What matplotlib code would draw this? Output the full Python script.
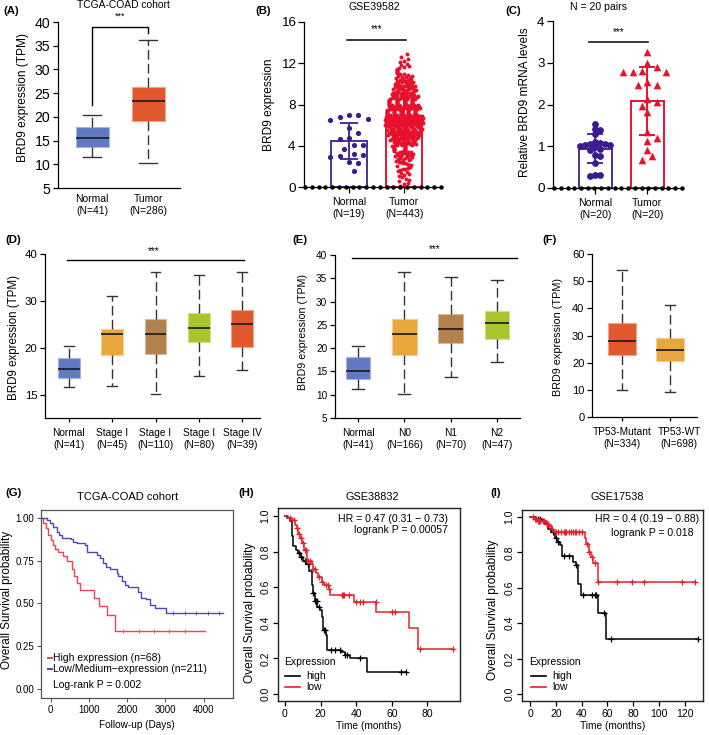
import numpy as np
import matplotlib
matplotlib.use('Agg')
import matplotlib.pyplot as plt
import matplotlib.transforms as mtrans
from matplotlib.colors import to_rgb

plt.rcParams['font.family'] = ['Liberation Sans', 'DejaVu Sans']
plt.rcParams['axes.linewidth'] = 0.9

# ======================= DATA =======================
# (A) TCGA-COAD boxplot
A_labels = ['Normal\n(N=41)', 'Tumor\n(N=286)']
A_whislo = [11.5, 10.3]
A_q1 = [13.6, 19.1]
A_med = [15.5, 23.3]
A_q3 = [17.9, 26.4]
A_whishi = [20.4, 36.2]
A_colors = ['#6079C1', '#E0582C']

# (B) GSE39582 scatter-bar
B_labels = ['Normal\n(N=19)', 'Tumor\n(N=443)']
B_normal = [7.0, 7.0, 6.8, 6.6, 6.5, 5.7, 5.2, 4.8, 4.7, 4.1, 4.1, 3.7,
            3.2, 3.1, 3.0, 2.9, 2.4, 2.3, 1.6]
B_tumor_bin_lo = [0.0, 0.5, 1.0, 1.5, 2.0, 2.5, 3.0, 3.5, 4.0, 4.5, 5.0, 5.5, 6.0,
                  6.5, 7.0, 7.5, 8.0, 8.5, 9.0, 9.5, 10.0, 10.5, 11.0, 11.5, 12.0, 12.5]
B_tumor_bin_n = [3, 4, 5, 6, 8, 10, 12, 14, 18, 24, 30, 36, 40,
                 40, 35, 32, 28, 24, 20, 16, 12, 9, 7, 5, 3, 2]
B_yticks = [0, 4, 8, 12, 16]

# (C) qPCR, 20 pairs
C_labels = ['Normal\n(N=20)', 'Tumor\n(N=20)']
C_normal = [1.53, 1.41, 1.38, 1.30, 1.10, 1.08, 1.06, 1.05, 1.04, 1.02, 1.00,
            0.98, 0.94, 0.90, 0.80, 0.76, 0.60, 0.32, 0.30, 0.28]
C_tumor = [3.26, 2.99, 2.91, 2.81, 2.77, 2.77, 2.77, 2.53, 2.47, 2.47, 2.13,
           2.05, 1.97, 1.81, 1.33, 1.20, 1.12, 0.92, 0.76, 0.68]
C_yticks = [0, 1, 2, 3, 4]

# (D) stage boxplot
D_labels = ['Normal\n(N=41)', 'Stage I\n(N=45)', 'Stage I\n(N=110)', 'Stage I\n(N=80)', 'Stage IV\n(N=39)']
D_whislo = [11.6, 11.9, 10.2, 13.9, 15.2]
D_q1 = [13.6, 18.5, 18.7, 21.3, 20.1]
D_med = [15.5, 22.9, 23.0, 24.3, 25.1]
D_q3 = [17.9, 24.0, 26.2, 27.4, 28.1]
D_whishi = [20.3, 31.1, 36.1, 35.5, 36.2]
D_colors = ['#6079C1', '#E9A63B', '#B3824C', '#A8C52C', '#E0582C']
D_yticks = [10, 20, 30, 40]
D_yticklabels = ['15', '20', '30', '40']

# (E) nodal status boxplot
E_labels = ['Normal\n(N=41)', 'N0\n(N=166)', 'N1\n(N=70)', 'N2\n(N=47)']
E_whislo = [11.2, 10.2, 13.7, 17.1]
E_q1 = [13.4, 18.6, 21.0, 21.9]
E_med = [15.1, 23.1, 24.2, 25.4]
E_q3 = [18.1, 26.2, 27.3, 28.0]
E_whishi = [20.5, 36.3, 35.3, 34.6]
E_colors = ['#6079C1', '#E9A63B', '#B3824C', '#A8C52C']
E_yticks = [5, 10, 15, 20, 25, 30, 35, 40]

# (F) TP53 status boxplot
F_labels = ['TP53-Mutant\n(N=334)', 'TP53-WT\n(N=698)']
F_whislo = [10.1, 9.3]
F_q1 = [22.7, 20.5]
F_med = [28.1, 24.8]
F_q3 = [34.6, 29.1]
F_whishi = [54.2, 41.2]
F_colors = ['#E0582C', '#E9A63B']
F_yticks = [0, 10, 20, 30, 40, 50, 60]

# (G) TCGA-COAD KM (days)
G_high_t = [-235, -191, -122, -61, 0, 52, 113, 200, 313, 418, 548, 609, 696, 766,
            1140, 1262, 1462, 1680, 4030]
G_high_s = [1.0, 0.97, 0.94, 0.90, 0.87, 0.84, 0.82, 0.80, 0.78, 0.75, 0.70, 0.66, 0.62, 0.58,
            0.535, 0.485, 0.43, 0.34, 0.34]
G_low_t = [-235, -104, -17, 70, 157, 226, 287, 522, 592, 679, 896, 957, 1200, 1288, 1375,
           1444, 1549, 1723, 1766, 1853, 1940, 2027, 2288, 2349, 2480, 2593, 2723, 3028, 4506]
G_low_s = [1.0, 0.99, 0.97, 0.95, 0.92, 0.90, 0.885, 0.875, 0.86, 0.855, 0.84, 0.80, 0.785,
           0.765, 0.735, 0.715, 0.70, 0.68, 0.66, 0.63, 0.61, 0.595, 0.565, 0.53, 0.525,
           0.49, 0.475, 0.445, 0.445]
G_high_cens = [1900, 2300, 2700, 3100, 3500]
G_low_cens = [3200, 3500, 3800, 4100, 4400]
G_xticks = [0, 1000, 2000, 3000, 4000]
G_yticks = [0.0, 0.25, 0.50, 0.75, 1.00]

# (H) GSE38832 KM (months)
H_high_t = [0, 1.3, 2.8, 3.7, 4.7, 6.2, 7.5, 8.8, 10.3, 12.1, 13.6, 15.0, 15.9, 16.8, 18.1,
            19.6, 20.6, 21.5, 22.8, 23.7, 31.2, 33.6, 36.4, 45.8, 68]
H_high_s = [1.0, 0.99, 0.97, 0.89, 0.83, 0.81, 0.79, 0.77, 0.75, 0.73, 0.69, 0.61, 0.57, 0.52,
            0.49, 0.47, 0.43, 0.36, 0.33, 0.25, 0.235, 0.22, 0.20, 0.125, 0.125]
H_high_cens = [8, 9, 11, 12, 13, 16, 17, 17.5, 18, 19, 22, 22.5, 26, 28, 31, 34, 35, 42, 65, 68]
H_low_t = [0, 1.9, 3.7, 5.6, 6.5, 7.5, 8.4, 9.3, 10.6, 12.5, 15.0, 15.9, 17.4, 18.7, 20.6,
           21.9, 24.9, 25.2, 38.7, 51.4, 69.7, 74.8, 94.4]
H_low_s = [1.0, 0.99, 0.98, 0.95, 0.93, 0.90, 0.875, 0.85, 0.81, 0.75, 0.73, 0.70, 0.68, 0.66,
           0.63, 0.61, 0.59, 0.555, 0.515, 0.46, 0.37, 0.255, 0.255]
H_low_cens = [3, 5, 7, 8, 9, 10, 11, 12, 13, 14, 16, 17, 19, 21, 23, 24, 25, 32, 32.5, 33,
              36, 40, 42, 44, 51, 60, 62, 76, 94.4]
H_xticks = [0, 20, 40, 60, 80]
HI_yticks = [0.0, 0.2, 0.4, 0.6, 0.8, 1.0]

# (I) GSE17538 KM (months)
I_high_t = [0, 5, 9, 12, 14, 16.5, 19, 21, 23, 24.4, 33.3, 35.4, 37.2, 39.7, 52.6, 58.5, 130]
I_high_s = [1.0, 0.99, 0.98, 0.96, 0.935, 0.915, 0.88, 0.86, 0.84, 0.78, 0.745, 0.73, 0.62,
            0.56, 0.455, 0.31, 0.31]
I_high_cens = [6, 8, 13, 16, 18, 20, 22, 26, 30, 36, 41, 48, 50, 51, 57, 63, 130]
I_low_t = [0, 3, 6, 9, 12.8, 15, 16.7, 18, 19.2, 42.3, 43.6, 46, 47.4, 48.7, 52.6, 128]
I_low_s = [1.0, 0.99, 0.98, 0.975, 0.96, 0.95, 0.93, 0.92, 0.915, 0.88, 0.85, 0.80, 0.775,
           0.74, 0.635, 0.635]
I_low_cens = [2, 4, 5, 6, 7, 8, 10, 11, 13, 14, 15, 17, 20, 22, 24, 26, 27, 28, 30, 32, 33,
              35, 36, 38, 40, 44, 46, 48, 50, 53, 67, 79, 88, 118, 128]
I_xticks = [0, 20, 40, 60, 80, 100, 120]

# ======================= FIGURE =======================
W, H = 709, 735
fig = plt.figure(figsize=(W / 100, H / 100), dpi=100)


def pax(l, t, r, b):
    return fig.add_axes([l / W, 1 - b / H, (r - l) / W, (b - t) / H])


def ftext(x, y, s, **kw):
    return fig.text(x / W, 1 - y / H, s, **kw)


def lighten(c, f):
    rgb = np.array(to_rgb(c))
    return tuple(rgb + (1 - rgb) * f)


def box_panel(ax, labels, lo, q1, med, q3, hi, colors, width, capw, xlim, ylim,
              yticks, yticklabels=None, tick_fs=8, cat_fs=7.4, xtick_len=3):
    stats = [dict(whislo=a, q1=b, med=c, q3=d, whishi=e)
             for a, b, c, d, e in zip(lo, q1, med, q3, hi)]
    pos = np.arange(len(stats))
    bp = ax.bxp(stats, positions=pos, widths=width, capwidths=capw, patch_artist=True,
                showfliers=False,
                whiskerprops=dict(color='#333333', lw=1.0, linestyle=(0, (7, 3))),
                capprops=dict(color='#333333', lw=1.0),
                medianprops=dict(color='#1a1a1a', lw=1.2))
    for patch, c in zip(bp['boxes'], colors):
        patch.set_facecolor(c)
        patch.set_edgecolor(lighten(c, 0.45))
        patch.set_linewidth(0.8)
    ax.set_xlim(*xlim)
    ax.set_ylim(*ylim)
    ax.set_xticks(pos)
    ax.set_xticklabels(labels, fontsize=cat_fs, linespacing=1.25)
    ax.set_yticks(yticks)
    if yticklabels is not None:
        ax.set_yticklabels(yticklabels)
    ax.tick_params(axis='y', labelsize=tick_fs, length=3.5, width=0.9, pad=2)
    ax.tick_params(axis='x', length=xtick_len, width=0.9, pad=4)
    for s in ('top', 'right'):
        ax.spines[s].set_visible(False)
    return pos


def swarm_offsets(vals, ypx, xpx, d, step=0.5):
    placed = []
    offs = []
    cands = [0.0]
    for k in range(1, 40):
        cands += [k * d * step, -k * d * step]
    for v in vals:
        y = v * ypx
        cx = 0.0
        for cx in cands:
            if all((cx - px) ** 2 + (y - py) ** 2 >= (d * 0.98) ** 2 for px, py in placed):
                break
        placed.append((cx, y))
        offs.append(cx / xpx)
    return np.array(offs)


def dotted_axis(ax, n):
    x0, x1 = ax.get_xlim()
    xs = np.linspace(x0 + 0.02, x1 - 0.02, n)
    ax.plot(xs, np.zeros_like(xs), 'o', color='black', ms=2.2, clip_on=False, zorder=6)


def bar_err(ax, means, sds, cols, width, capsize):
    for i, (m, sd, c) in enumerate(zip(means, sds, cols)):
        ax.bar([i], [m], width=width, facecolor='white', edgecolor=c, lw=1.4, zorder=1)
        ax.errorbar([i], [m], yerr=[sd], fmt='none', ecolor=c, elinewidth=1.4,
                    capsize=capsize, capthick=1.4, zorder=2)


# ---------------- (A) ----------------
axA = pax(58, 22, 180, 188)
box_panel(axA, A_labels, A_whislo, A_q1, A_med, A_q3, A_whishi, A_colors,
          width=0.59, capw=0.33, xlim=(-0.61, 1.57), ylim=(5, 40),
          yticks=[5, 10, 15, 20, 25, 30, 35, 40], tick_fs=10.2, cat_fs=7.5, xtick_len=0)
axA.plot([0, 0, 1, 1], [22.6, 39.0, 39.0, 37.6], color='black', lw=1.0, clip_on=False)
axA.text(0.5, 41.3, '***', ha='center', va='center', fontsize=6.5, clip_on=False)
axA.set_ylabel('BRD9 expression (TPM)', fontsize=8.6, va='center')
axA.yaxis.set_label_coords((23 - 58) / 122, 1 - (97 - 22) / 166)

# ---------------- (B) ----------------
axB = pax(304, 22, 442, 187)
tumor_vals = []
tumor_x = []
for lo, n in zip(B_tumor_bin_lo, B_tumor_bin_n):
    w = 0.34 * min(1.0, (n / 40.0) ** 0.6)
    order = [(k * 7) % n for k in range(n)]
    for k in range(n):
        tumor_vals.append(lo + (k + 0.5) * 0.5 / n)
        xo = 0.0 if n == 1 else -w + 2 * w * order[k] / (n - 1)
        tumor_x.append(1 + xo)
tumor_vals = np.array(tumor_vals)
B_means = [np.mean(B_normal), tumor_vals.mean()]
B_sds = [np.std(B_normal, ddof=1), tumor_vals.std(ddof=1)]
B_cols_bar = ['#4B2E9E', '#E8112D']
bar_err(axB, B_means, B_sds, B_cols_bar, 0.64, 6.5)
bn_sorted = np.sort(B_normal)[::-1]
bn_off = swarm_offsets(bn_sorted, 165 / 16, 55, 8.5, 0.55)
axB.scatter(0 + bn_off, bn_sorted, s=14, color='#3A1C8C', zorder=3, linewidths=0)
axB.scatter(tumor_x, tumor_vals, s=8, color='#E8112D', zorder=3, linewidths=0)
axB.set_xlim(-0.82, 1.69)
axB.set_ylim(0, 16)
axB.set_xticks([0, 1])
axB.set_xticklabels(B_labels, fontsize=7.6, linespacing=1.25)
axB.set_yticks(B_yticks)
axB.tick_params(axis='y', labelsize=9.7, length=4, width=0.9, pad=2)
axB.tick_params(axis='x', length=4, width=0.9, pad=3)
for s in ('top', 'right'):
    axB.spines[s].set_visible(False)
dotted_axis(axB, 21)
axB.plot([-0.04, 1.04], [14.3, 14.3], color='black', lw=1.1)
axB.text(0.5, 14.8, '***', ha='center', va='bottom', fontsize=7)
axB.set_ylabel('BRD9 expression', fontsize=8.6, va='center')
axB.yaxis.set_label_coords((269 - 304) / 138, 1 - (105 - 22) / 165)

# ---------------- (C) ----------------
axC = pax(553, 21, 683, 188)
C_means = [np.mean(C_normal), np.mean(C_tumor)]
C_sds = [np.std(C_normal, ddof=1), np.std(C_tumor, ddof=1)]
C_cols_bar = ['#4B2E9E', '#E8112D']
bar_err(axC, C_means, C_sds, C_cols_bar, 0.63, 5.5)
cn_sorted = np.sort(C_normal)[::-1]
ct_sorted = np.sort(C_tumor)[::-1]
cn_off = swarm_offsets(cn_sorted, 167 / 4, 52, 4.6, 0.55)
ct_off = swarm_offsets(ct_sorted, 167 / 4, 52, 8.0, 0.6)
axC.scatter(0 + cn_off, cn_sorted, s=24, color='#3A1C8C', zorder=3, linewidths=0)
axC.scatter(1 + ct_off, ct_sorted, s=30, marker='^', color='#E8112D', zorder=3, linewidths=0)
axC.set_xlim(-0.81, 1.69)
axC.set_ylim(0, 4)
axC.set_xticks([0, 1])
axC.set_xticklabels(C_labels, fontsize=7.6, linespacing=1.25)
axC.set_yticks(C_yticks)
axC.tick_params(axis='y', labelsize=9.7, length=4, width=0.9, pad=2)
axC.tick_params(axis='x', length=4, width=0.9, pad=3)
for s in ('top', 'right'):
    axC.spines[s].set_visible(False)
dotted_axis(axC, 20)
axC.plot([-0.12, 1.02], [3.5, 3.5], color='black', lw=1.1)
axC.text(0.45, 3.62, '***', ha='center', va='bottom', fontsize=7)
axC.set_ylabel('Relative BRD9 mRNA levels', fontsize=8.6, va='center')
axC.yaxis.set_label_coords((525 - 553) / 130, 1 - (102 - 21) / 167)

# ---------------- (D) ----------------
axD = pax(45, 254, 260, 418)
box_panel(axD, D_labels, D_whislo, D_q1, D_med, D_q3, D_whishi, D_colors,
          width=0.5, capw=0.22, xlim=(-0.55, 4.41), ylim=(5, 40),
          yticks=D_yticks, yticklabels=D_yticklabels, tick_fs=8.2, cat_fs=7.3)
axD.plot([-0.05, 4.05], [38.7, 38.7], color='black', lw=1.0, clip_on=False)
axD.text(1.95, 39.6, '***', ha='center', va='bottom', fontsize=7, clip_on=False)
axD.set_ylabel('BRD9 expression (TPM)', fontsize=8.3, va='center')
axD.yaxis.set_label_coords((14 - 45) / 215, 1 - (337 - 254) / 164)

# ---------------- (E) ----------------
axE = pax(335, 255, 520, 418)
box_panel(axE, E_labels, E_whislo, E_q1, E_med, E_q3, E_whishi, E_colors,
          width=0.53, capw=0.26, xlim=(-0.5, 3.5), ylim=(5, 40),
          yticks=E_yticks, tick_fs=7.2, cat_fs=7.3)
axE.plot([-0.13, 3.43], [39.3, 39.3], color='black', lw=1.0, clip_on=False)
axE.text(1.66, 40.1, '***', ha='center', va='bottom', fontsize=7, clip_on=False)
axE.set_ylabel('BRD9 expression (TPM)', fontsize=7.7, va='center')
axE.yaxis.set_label_coords((303 - 335) / 185, 1 - (332 - 255) / 163)

# ---------------- (F) ----------------
axF = pax(592, 254, 697, 417)
box_panel(axF, F_labels, F_whislo, F_q1, F_med, F_q3, F_whishi, F_colors,
          width=0.58, capw=0.22, xlim=(-0.625, 1.56), ylim=(0, 60),
          yticks=F_yticks, tick_fs=8.0, cat_fs=7.3)
wt_lbl = axF.get_xticklabels()[1]
wt_lbl.set_transform(wt_lbl.get_transform() +
                     mtrans.ScaledTranslation(9 / 100, 0, fig.dpi_scale_trans))
axF.set_ylabel('BRD9 expression (TPM)', fontsize=7.8, va='center')
axF.yaxis.set_label_coords((558 - 592) / 105, 1 - (337 - 254) / 163)


# ---------------- KM helpers ----------------
def km(ax, t, s, color, lw, cens=None, ms=5, mew=0.9):
    t = np.asarray(t, float)
    s = np.asarray(s, float)
    ax.step(t, s, where='post', color=color, lw=lw)
    if cens is not None:
        c = np.asarray(cens, float)
        idx = np.clip(np.searchsorted(t, c, side='right') - 1, 0, len(s) - 1)
        ax.plot(c, s[idx], ls='none', marker='+', color=color, ms=ms, mew=mew)


# ---------------- (G) ----------------
axG = pax(41, 510, 233, 698)
km(axG, G_high_t, G_high_s, '#EE4658', 1.0, G_high_cens, ms=2.5, mew=0.6)
km(axG, G_low_t, G_low_s, '#5546B4', 1.0, G_low_cens, ms=2.5, mew=0.6)
axG.set_xlim(-250, 4765)
axG.set_ylim(-0.053, 1.047)
axG.set_xticks(G_xticks)
axG.set_yticks(G_yticks)
axG.set_yticklabels(['%.2f' % v for v in G_yticks])
for sp in axG.spines.values():
    sp.set_color('#555555')
    sp.set_linewidth(0.9)
axG.tick_params(labelsize=7.0, length=3, width=0.8, color='#555555', pad=2)
axG.set_xlabel('Follow-up (Days)', fontsize=7.2, labelpad=4)
axG.set_ylabel('Overall Survival probability', fontsize=8.4, va='center')
axG.yaxis.set_label_coords((7 - 41) / 192, 1 - (600 - 510) / 188)
for yy, col, txt in [(0.213, '#EE4658', 'High expression (n=68)'),
                     (0.154, '#5546B4', 'Low/Medium\u2212expression (n=211)')]:
    axG.plot([0.038, 0.055], [yy, yy], color=col, lw=1.4, transform=axG.transAxes)
    axG.text(0.062, yy, txt, fontsize=7.5, va='center', ha='left', transform=axG.transAxes)
axG.text(0.062, 0.069, 'Log-rank P = 0.002', fontsize=7.5, va='center', ha='left',
         transform=axG.transAxes)


def km_frame(ax, xlim, ylim, xticks):
    ax.set_xlim(*xlim)
    ax.set_ylim(*ylim)
    ax.set_xticks(xticks)
    ax.set_yticks(HI_yticks)
    ax.set_yticklabels(['%.1f' % v for v in HI_yticks], rotation=90, va='center')
    for sp in ax.spines.values():
        sp.set_color('#222222')
        sp.set_linewidth(1.0)
    ax.tick_params(labelsize=7.5, length=3.5, width=0.9, pad=2)


def km_legend(ax, x0, ys, xl):
    ax.text(x0, ys[0], 'Expression', fontsize=7.5, va='center', ha='left', transform=ax.transAxes)
    for yy, col, txt in [(ys[1], 'black', 'high'), (ys[2], '#E8202A', 'low')]:
        ax.plot(xl[:2], [yy, yy], color=col, lw=1.2, transform=ax.transAxes)
        ax.text(xl[2], yy, txt, fontsize=7.5, va='center', ha='left', transform=ax.transAxes)


# ---------------- (H) ----------------
axH = pax(278, 508, 460, 701)
km(axH, H_high_t, H_high_s, 'black', 1.1, H_high_cens, ms=5, mew=0.9)
km(axH, H_low_t, H_low_s, '#E8202A', 1.1, H_low_cens, ms=5, mew=0.9)
km_frame(axH, (-3.9, 98.3), (-0.039, 1.045), H_xticks)
axH.set_xlabel('Time (months)', fontsize=7.3, labelpad=2)
axH.set_ylabel('Overall Survival probability', fontsize=8.6, va='center')
axH.yaxis.set_label_coords((250 - 278) / 182, 1 - (613 - 508) / 193)
axH.text(0.934, 0.943, 'HR = 0.47 (0.31 \u2212 0.73)', fontsize=7.6, ha='right', va='center',
         transform=axH.transAxes)
axH.text(0.934, 0.886, 'logrank P = 0.00057', fontsize=7.6, ha='right', va='center',
         transform=axH.transAxes)
km_legend(axH, 0.033, [0.202, 0.13, 0.073], [0.038, 0.12, 0.154])

# ---------------- (I) ----------------
axI = pax(522, 510, 703, 701)
km(axI, I_high_t, I_high_s, 'black', 1.1, I_high_cens, ms=5, mew=0.9)
km(axI, I_low_t, I_low_s, '#E8202A', 1.1, I_low_cens, ms=5, mew=0.9)
km_frame(axI, (-6.2, 134), (-0.04, 1.04), I_xticks)
axI.set_xlabel('Time (months)', fontsize=7.3, labelpad=2)
axI.set_ylabel('Overall Survival probability', fontsize=8.6, va='center')
axI.yaxis.set_label_coords((493 - 522) / 181, 1 - (610 - 510) / 191)
axI.text(0.978, 0.953, 'HR = 0.4 (0.19 \u2212 0.88)', fontsize=7.6, ha='right', va='center',
         transform=axI.transAxes)
axI.text(0.945, 0.88, 'logrank P = 0.018', fontsize=7.6, ha='right', va='center',
         transform=axI.transAxes)
km_legend(axI, 0.039, [0.204, 0.131, 0.073], [0.05, 0.13, 0.166])

# ---------------- titles & panel labels ----------------
ftext(123, 5.5, 'TCGA-COAD cohort', fontsize=7.4, ha='center', va='center')
ftext(374, 7, 'GSE39582', fontsize=7.6, ha='center', va='center')
ftext(598, 7, 'N = 20 pairs', fontsize=7.6, ha='center', va='center')
ftext(128, 497, 'TCGA-COAD cohort', fontsize=8.0, ha='center', va='center')
ftext(372, 497, 'GSE38832', fontsize=7.8, ha='center', va='center')
ftext(617, 497, 'GSE17538', fontsize=7.8, ha='center', va='center')

for x, y, s in [(3, 11, '(A)'), (255, 11, '(B)'), (505, 11, '(C)'),
                (5, 240, '(D)'), (292, 240, '(E)'), (542, 240, '(F)'),
                (5, 493, '(G)'), (238, 493, '(H)'), (490, 493, '(I)')]:
    ftext(x, y, s, fontsize=8.2, fontweight='bold', ha='left', va='center')

fig.savefig('out.png', dpi=100)
